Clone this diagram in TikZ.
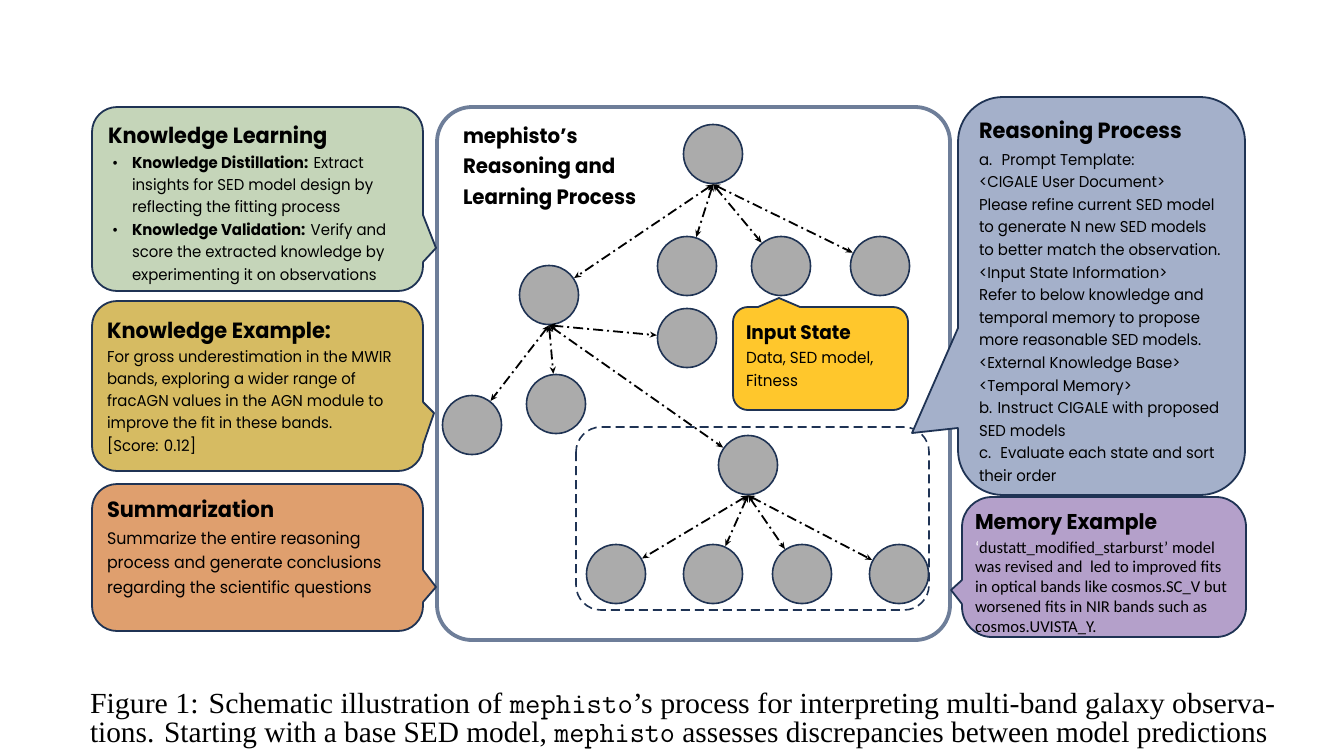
\documentclass[tikz,border=0pt]{standalone}
\usepackage{fontspec}
\usepackage{graphicx}
\setmainfont{Poppins}[FakeStretch=0.95]
\newfontfamily\calfont{Carlito}
\newfontfamily\capfont{Liberation Serif}
\usetikzlibrary{arrows.meta}
\definecolor{navy}{HTML}{1F3354}
\definecolor{cborder}{HTML}{6E7E99}
\definecolor{cgray}{HTML}{ABABAB}
\definecolor{klgreen}{HTML}{C5D5B9}
\definecolor{keyellow}{HTML}{D6BB62}
\definecolor{smorange}{HTML}{DF9F6E}
\definecolor{inyellow}{HTML}{FFC72C}
\definecolor{rpblue}{HTML}{A4B0CA}
\definecolor{mempurple}{HTML}{B4A0CA}
\newcommand\bodyf{\fontsize{15.7}{19}\selectfont}
\newcommand\titlef{\bfseries\fontsize{22}{26}\selectfont}
\begin{document}
\begin{tikzpicture}[x=1pt,y=-1pt,
  cbox/.style={draw=navy, line width=1.8pt, line join=round},
  pline/.style={draw=navy, line width=1.8pt, line join=round, line cap=round},
  snode/.style={circle, draw=navy, line width=1.6pt, fill=cgray, minimum size=59pt, inner sep=0pt},
  treearrow/.style={line width=1.8pt, dash pattern=on 10pt off 4pt on 2pt off 4pt,
    arrows={Stealth[length=7pt,width=6pt]-Stealth[length=7pt,width=6pt]}},
  tline/.style={anchor=base west, inner sep=0pt, outer sep=0pt}]
\useasboundingbox (0,0) rectangle (1338,748);
\fill[white] (0,0) rectangle (1338,748);

% central frame
\draw[line width=3.8pt, draw=cborder, fill=white, rounded corners=35pt] (437,107) rectangle (950,640);

% left callouts
\draw[cbox, fill=klgreen, rounded corners=25pt] (92,107) rectangle (423,291);
\fill[klgreen] (419,215) -- (423,215) -- (436,248) -- (423,262) -- (419,262) -- cycle;
\draw[pline] (423,215) -- (436,248) -- (423,262);

\draw[cbox, fill=keyellow, rounded corners=25pt] (92,301) rectangle (423,471);
\fill[keyellow] (419,402) -- (423,402) -- (434,413) -- (423,445) -- (419,445) -- cycle;
\draw[pline] (423,402) -- (434,413) -- (423,445);

\draw[cbox, fill=smorange, rounded corners=25pt] (92,484) rectangle (423,631);
\fill[smorange] (419,570) -- (423,570) -- (436,587) -- (423,602) -- (419,602) -- cycle;
\draw[pline] (423,570) -- (436,587) -- (423,602);

% tree
\node[snode] (root) at (713,154) {};
\node[snode] (a) at (549,295) {};
\node[snode] (b) at (687,266) {};
\node[snode] (c) at (781,266) {};
\node[snode] (d) at (880,266) {};
\node[snode] (e) at (687,338) {};
\node[snode] (f) at (472,425) {};
\node[snode] (g) at (556,404) {};
\node[snode] (h) at (748,465) {};
\node[snode] (h1) at (616,574) {};
\node[snode] (h2) at (713,574) {};
\node[snode] (h3) at (802,574) {};
\node[snode] (h4) at (899,574) {};
\foreach \n in {a,b,c,d} \draw[treearrow] (root.south) -- (\n);
\foreach \n in {e,g,f,h} \draw[treearrow] (a.south) -- (\n);
\foreach \n in {h1,h2,h3,h4} \draw[treearrow] (h.south) -- (\n);

% dashed group
\draw[navy, line width=1.6pt, dash pattern=on 9pt off 5pt, rounded corners=25pt] (576,427) rectangle (929,610);

% input state callout
\draw[cbox, fill=inyellow, rounded corners=15pt] (733,307) rectangle (908,410);
\fill[inyellow] (758,311) -- (758,307) -- (779,298) -- (800,307) -- (800,311) -- cycle;
\draw[pline] (758,307) -- (779,298) -- (800,307);
\node[tline, font=\bfseries\fontsize{19.5}{23}\selectfont] (ist) at (746,339) {Input State};
\node[tline, font=\fontsize{16}{19}\selectfont] (is1) at (746,363) {Data, SED model,};
\node[tline, font=\fontsize{16}{19}\selectfont] (is2) at (746,386) {Fitness};

% center title
\node[tline, font=\bfseries\fontsize{20.8}{24}\selectfont] (ct1) at (463,143) {mephisto’s};
\node[tline, font=\bfseries\fontsize{20.8}{24}\selectfont] (ct2) at (463,173) {Reasoning and};
\node[tline, font=\bfseries\fontsize{20.8}{24}\selectfont] (ct3) at (463,204) {Learning Process};

% reasoning process callout
\draw[cbox, fill=rpblue, rounded corners=45pt] (958,97) rectangle (1245,495);
\fill[rpblue] (962,328) -- (958,328) -- (912,433) -- (958,428) -- (962,428) -- cycle;
\draw[pline] (958,328) -- (912,433) -- (958,428);

% memory callout
\draw[cbox, fill=mempurple, rounded corners=30pt] (962,497) rectangle (1246,637);
\fill[mempurple] (966,580) -- (962,580) -- (951,590) -- (962,604) -- (966,604) -- cycle;
\draw[pline] (962,580) -- (951,590) -- (962,604);

% texts: knowledge learning
\node[tline, font=\titlef] (klt) at (108,143) {Knowledge Learning};
\foreach \t [count=\i from 0] in {{\makebox[20pt][l]{•}\textbf{Knowledge Distillation:} Extract},
  {\hspace*{20pt}insights for SED model design by},
  {\hspace*{20pt}reflecting the fitting process},
  {\makebox[20pt][l]{•}\textbf{Knowledge Validation:} Verify and},
  {\hspace*{20pt}score the extracted knowledge by},
  {\hspace*{20pt}experimenting it on observations}}
  \node[tline, font=\bodyf, name=kl\i] at (112,{168+22.4*\i}) {\t};

% knowledge example
\node[tline, font=\titlef] (ket) at (107,338) {Knowledge Example:};
\foreach \t [count=\i from 0] in {{For gross underestimation in the MWIR},
  {bands, exploring a wider range of},
  {fracAGN values in the AGN module to},
  {improve the fit in these bands.},
  {[Score: 0.12]}}
  \node[tline, font=\bodyf, name=ke\i] at (107,{362+22.3*\i}) {\t};

% summarization
\node[tline, font=\titlef] (smt) at (107,517) {Summarization};
\foreach \t [count=\i from 0] in {{Summarize the entire reasoning},
  {process and generate conclusions},
  {regarding the scientific questions}}
  \node[tline, font=\fontsize{16.7}{20}\selectfont, name=sm\i] at (107,{544+24.5*\i}) {\t};

% reasoning process text
\node[tline, font=\titlef] (rpt) at (979,138) {Reasoning Process};
\foreach \t [count=\i from 0] in {{a.~ Prompt Template:},
  {<CIGALE User Document>},
  {Please refine current SED model},
  {to generate N new SED models},
  {to better match the observation.},
  {<Input State Information>},
  {Refer to below knowledge and},
  {temporal memory to propose},
  {more reasonable SED models.},
  {<External Knowledge Base>},
  {<Temporal Memory>},
  {b. Instruct CIGALE with proposed},
  {SED models},
  {c.~ Evaluate each state and sort},
  {their order}}
  \node[tline, font=\bodyf, name=rp\i] at (979,{165+22.6*\i}) {\t};

% memory example text
\node[tline, font=\bfseries\fontsize{21.4}{25}\selectfont] (met) at (975,529) {Memory Example};
\foreach \t [count=\i from 0] in {{\textcolor{white}{‘}dustatt\_modified\_starburst’ model},
  {was revised and~ led to improved fits},
  {in optical bands like cosmos.SC\_V but},
  {worsened fits in NIR bands such as},
  {cosmos.UVISTA\_Y.}}
  \node[tline, font=\calfont\fontsize{16.6}{19}\selectfont, name=me\i] at (975,{553+19.8*\i}) {\t};

% caption
\node[tline] (cap1) at (90,713) {\resizebox{1185pt}{20.5pt}{\capfont\fontsize{24}{28}\selectfont Figure 1: Schematic illustration of {\ttfamily mephisto}’s process for interpreting multi-band galaxy observa-}};
\node[tline] (cap2) at (90,742) {\resizebox{1177pt}{20.5pt}{\capfont\fontsize{24}{28}\selectfont tions. Starting with a base SED model, {\ttfamily mephisto} assesses discrepancies between model predictions}};
\end{tikzpicture}
\end{document}
